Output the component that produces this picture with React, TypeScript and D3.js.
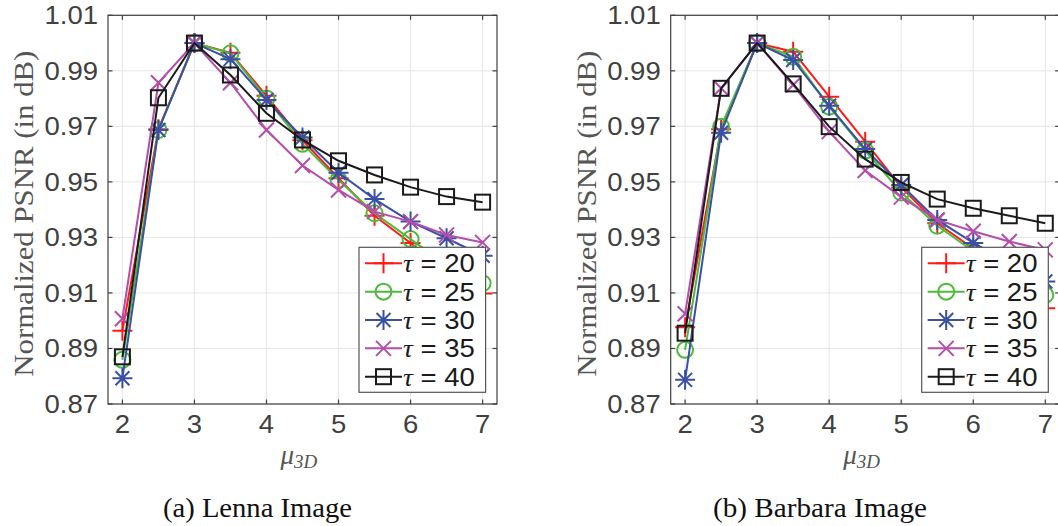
import React from "react";
import * as d3 from "d3";

const muValues = [2, 2.5, 3, 3.5, 4, 4.5, 5, 5.5, 6, 6.5, 7];
const xTicks = [2, 3, 4, 5, 6, 7];
const yTicks = [0.87, 0.89, 0.91, 0.93, 0.95, 0.97, 0.99, 1.01];
const tauLabels = ["20", "25", "30", "35", "40"];

const lennaTau20 = [0.8964, 0.969, 1.0, 0.9965, 0.981, 0.965, 0.9513, 0.9378, 0.928, 0.918, 0.9098];
const lennaTau25 = [0.8859, 0.9687, 1.0, 0.9963, 0.98, 0.9637, 0.9507, 0.9387, 0.9294, 0.92, 0.9135];
const lennaTau30 = [0.8793, 0.9687, 1.0, 0.9942, 0.9795, 0.966, 0.9533, 0.9438, 0.9357, 0.9297, 0.9234];
const lennaTau35 = [0.9007, 0.9857, 1.0, 0.9857, 0.9687, 0.9559, 0.9471, 0.9393, 0.9357, 0.9309, 0.9282];
const lennaTau40 = [0.887, 0.9803, 1.0, 0.9885, 0.9747, 0.9651, 0.9576, 0.9525, 0.9481, 0.9447, 0.9427];

const barbaraTau20 = [0.8976, 0.969, 1.0, 0.9969, 0.9807, 0.9645, 0.948, 0.9351, 0.926, 0.914, 0.9045];
const barbaraTau25 = [0.8895, 0.9699, 1.0, 0.9951, 0.9771, 0.9613, 0.9462, 0.9342, 0.925, 0.916, 0.9093];
const barbaraTau30 = [0.8787, 0.9677, 1.0, 0.9939, 0.9774, 0.9618, 0.9489, 0.9363, 0.928, 0.921, 0.9141];
const barbaraTau35 = [0.9025, 0.9837, 1.0, 0.9849, 0.9681, 0.9541, 0.9445, 0.9363, 0.9322, 0.9285, 0.9255];
const barbaraTau40 = [0.8955, 0.9837, 1.0, 0.9853, 0.9699, 0.9582, 0.9498, 0.9438, 0.9405, 0.9378, 0.9351];

const seriesColors = ["#ff1a1a", "#4dbb3a", "#3a50a5", "#b54ea9", "#1a1a1a"];
const markerTypes = ["plus", "circle", "star", "cross", "square"];

const lennaSeries = [lennaTau20, lennaTau25, lennaTau30, lennaTau35, lennaTau40];
const barbaraSeries = [barbaraTau20, barbaraTau25, barbaraTau30, barbaraTau35, barbaraTau40];

const W = 1058;
const H = 526;
const SANS = "'Liberation Sans', Arial, sans-serif";
const SERIF = "'Liberation Serif', 'Times New Roman', serif";
const AXIS_COLOR = "#404040";

function Marker({ type, x, y, color }: { type: string; x: number; y: number; color: string }) {
  const sw = 2;
  if (type === "plus") {
    return <path d={`M${x - 10},${y}H${x + 10}M${x},${y - 10}V${y + 10}`} stroke={color} strokeWidth={sw} fill="none" />;
  }
  if (type === "circle") {
    return <circle cx={x} cy={y} r={8} stroke={color} strokeWidth={sw} fill="none" />;
  }
  if (type === "star") {
    const d = 7;
    return (
      <path
        d={`M${x - 10},${y}H${x + 10}M${x},${y - 10}V${y + 10}M${x - d},${y - d}L${x + d},${y + d}M${x - d},${y + d}L${x + d},${y - d}`}
        stroke={color}
        strokeWidth={sw}
        fill="none"
      />
    );
  }
  if (type === "cross") {
    const d = 7.5;
    return <path d={`M${x - d},${y - d}L${x + d},${y + d}M${x - d},${y + d}L${x + d},${y - d}`} stroke={color} strokeWidth={sw} fill="none" />;
  }
  return <rect x={x - 7.5} y={y - 7.5} width={15} height={15} stroke={color} strokeWidth={sw} fill="none" />;
}

function Panel({
  left,
  right,
  series,
  caption,
  captionX,
  captionW,
  legendX,
}: {
  left: number;
  right: number;
  series: number[][];
  caption: string;
  captionX: number;
  captionW: number;
  legendX: number;
}) {
  const top = 15.3;
  const bottom = 404;
  const x = d3.scaleLinear().domain([1.8, 7.2]).range([left, right]);
  const y = d3.scaleLinear().domain([0.87, 1.01]).range([bottom, top]);
  const line = d3
    .line<number>()
    .x((_, i) => x(muValues[i]))
    .y((d) => y(d));
  const tick = 4.5;
  const cx = (left + right) / 2;
  const legendTop = 247.3;
  const legendW = 126.6;
  const legendH = 145;
  const rowH = 28.35;

  return (
    <g>
      {xTicks.map((t) => (
        <line key={"gx" + t} x1={x(t)} x2={x(t)} y1={top} y2={bottom} stroke="#e6e6e6" strokeWidth={1} />
      ))}
      {yTicks.map((t) => (
        <line key={"gy" + t} x1={left} x2={right} y1={y(t)} y2={y(t)} stroke="#e6e6e6" strokeWidth={1} />
      ))}
      <rect x={left} y={top} width={right - left} height={bottom - top} fill="none" stroke={AXIS_COLOR} strokeWidth={1.2} />
      {xTicks.map((t) => (
        <g key={"tx" + t}>
          <line x1={x(t)} x2={x(t)} y1={bottom} y2={bottom - tick} stroke={AXIS_COLOR} strokeWidth={1.2} />
          <line x1={x(t)} x2={x(t)} y1={top} y2={top + tick} stroke={AXIS_COLOR} strokeWidth={1.2} />
          <text
            x={0}
            y={0}
            transform={`translate(${x(t)},${433}) scale(1.1,1)`}
            textAnchor="middle"
            fontFamily={SANS}
            fontSize={25}
            fill={AXIS_COLOR}
          >
            {t}
          </text>
        </g>
      ))}
      {yTicks.map((t) => (
        <g key={"ty" + t}>
          <line x1={left} x2={left + tick} y1={y(t)} y2={y(t)} stroke={AXIS_COLOR} strokeWidth={1.2} />
          <line x1={right} x2={right - tick} y1={y(t)} y2={y(t)} stroke={AXIS_COLOR} strokeWidth={1.2} />
          <text
            x={0}
            y={0}
            transform={`translate(${left - 10},${y(t) + 9}) scale(1.1,1)`}
            textAnchor="end"
            fontFamily={SANS}
            fontSize={25}
            fill={AXIS_COLOR}
          >
            {t.toFixed(2)}
          </text>
        </g>
      ))}
      <text
        transform={`translate(${left - 75},${(top + bottom) / 2 + 4}) rotate(-90)`}
        textAnchor="middle"
        fontFamily={SERIF}
        fontSize={27}
        fill="#555555"
        textLength={326}
        lengthAdjust="spacingAndGlyphs"
      >
        Normalized PSNR (in dB)
      </text>
      <text x={cx - 22} y={464} fontFamily={SERIF} fontStyle="italic" fontSize={27} fill="#555555">
        μ<tspan fontSize={19} dy={4}>3D</tspan>
      </text>
      <text
        x={captionX}
        y={517}
        fontFamily={SERIF}
        fontSize={27}
        fill="#111111"
        textLength={captionW}
        lengthAdjust="spacingAndGlyphs"
      >
        {caption}
      </text>
      {series.map((s, si) => (
        <g key={"s" + si}>
          <path d={line(s) || ""} fill="none" stroke={seriesColors[si]} strokeWidth={2} />
          {s.map((v, i) => (
            <Marker key={i} type={markerTypes[si]} x={x(muValues[i])} y={y(v)} color={seriesColors[si]} />
          ))}
        </g>
      ))}
      <rect x={legendX} y={legendTop} width={legendW} height={legendH} fill="#ffffff" stroke="#555555" strokeWidth={1.2} />
      {tauLabels.map((lab, i) => {
        const ry = legendTop + 16 + i * rowH;
        return (
          <g key={"l" + lab}>
            <line x1={legendX + 6} x2={legendX + 43} y1={ry} y2={ry} stroke={seriesColors[i]} strokeWidth={2} />
            <Marker type={markerTypes[i]} x={legendX + 24.5} y={ry} color={seriesColors[i]} />
            <text
              x={0}
              y={0}
              transform={`translate(${legendX + 44},${ry + 9}) scale(1.1,1)`}
              fontFamily={SANS}
              fontSize={25}
              fill="#1a1a1a"
            >
              <tspan fontFamily={SERIF} fontStyle="italic">τ</tspan>
              <tspan> = {lab}</tspan>
            </text>
          </g>
        );
      })}
    </g>
  );
}

export default function App() {
  return (
    <svg
      width={W}
      height={H}
      viewBox={`0 0 ${W} ${H}`}
      style={{ position: "absolute", left: 0, top: 0, background: "#ffffff" }}
    >
      <rect x={0} y={0} width={W} height={H} fill="#ffffff" />
      <Panel left={108} right={497} series={lennaSeries} caption="(a) Lenna Image" captionX={163} captionW={189} legendX={359} />
      <Panel left={670.7} right={1059.7} series={barbaraSeries} caption="(b) Barbara Image" captionX={713} captionW={214} legendX={921.7} />
    </svg>
  );
}
